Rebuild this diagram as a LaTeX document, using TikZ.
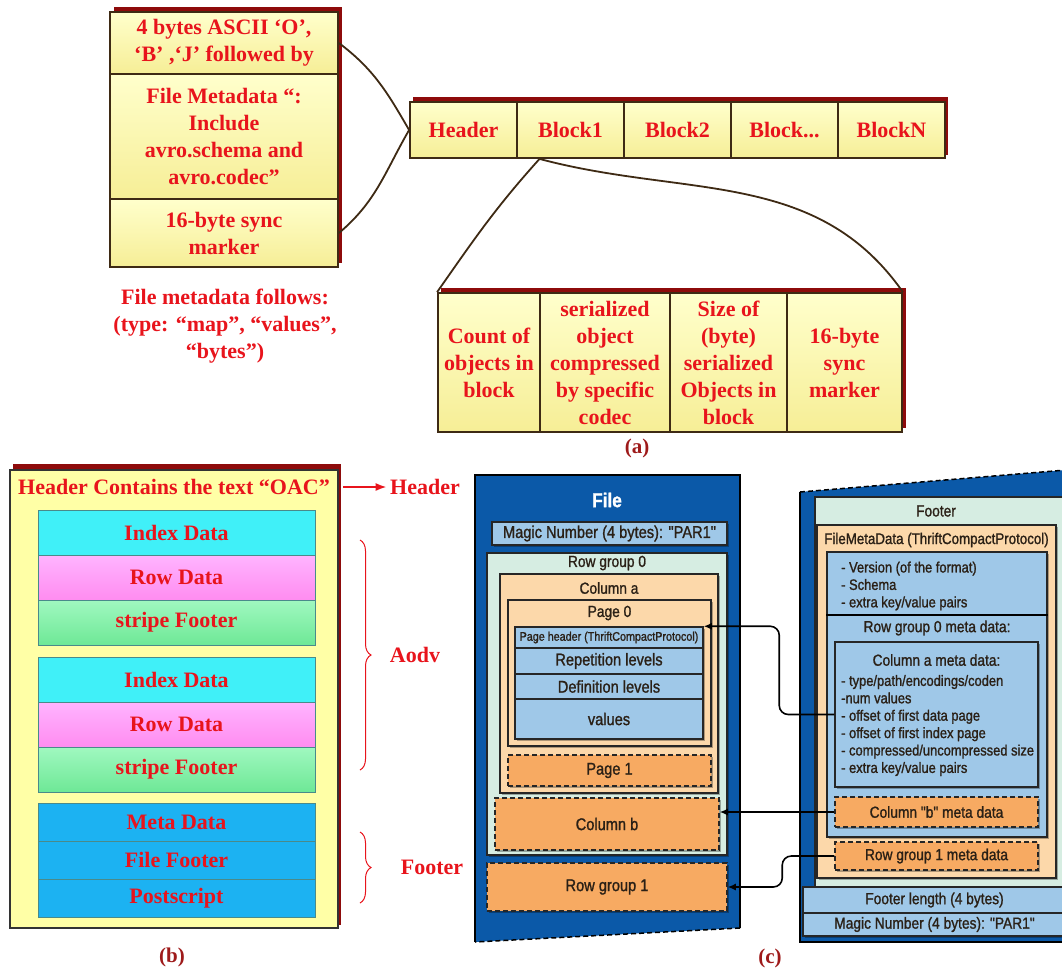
\documentclass[tikz,border=0pt]{standalone}
\usepackage{fontspec}
\setmainfont{Liberation Serif}
\newfontfamily\parqfont[FakeStretch=0.86, FakeBold=1.2]{Liberation Sans}
\usetikzlibrary{arrows.meta,decorations.pathreplacing,shadows}
\definecolor{avrored}{HTML}{E8141C}
\definecolor{capred}{HTML}{9E1A1A}
\definecolor{avrobrd}{HTML}{3E2A14}
\definecolor{barred}{HTML}{8E0B0B}
\definecolor{avrotop}{HTML}{FFFFCC}
\definecolor{avrobot}{HTML}{F6EE96}
\definecolor{orcyel}{HTML}{FFFFA6}
\definecolor{stripebrd}{HTML}{4A8A8A}
\definecolor{idxcyan}{HTML}{40F0F8}
\definecolor{rowtop}{HTML}{FFB4FF}
\definecolor{rowbot}{HTML}{FF8CF0}
\definecolor{sftop}{HTML}{A0F8C0}
\definecolor{sfbot}{HTML}{6EE896}
\definecolor{metablue}{HTML}{1CB2F2}
\definecolor{pqdark}{HTML}{0B59A8}
\definecolor{pqlight}{HTML}{9FC8E8}
\definecolor{pqmint}{HTML}{D6EDE2}
\definecolor{pqpeach}{HTML}{FCD8AA}
\definecolor{pqorange}{HTML}{F7AA62}
\definecolor{pqtext}{HTML}{2A2016}
\newcommand\avrofont{\bfseries\fontsize{22}{27}\selectfont}
\newcommand\pqsize[1]{\parqfont\fontsize{#1}{17.4}\selectfont}
\tikzset{
	avrocell/.style={draw=avrobrd, line width=1.8pt, top color=avrotop, bottom color=avrobot,
		text=avrored, font=\avrofont, align=center, inner sep=0pt},
	avrolink/.style={draw=avrobrd, line width=1.8pt},
	redtext/.style={text=avrored, font=\avrofont, align=center},
	caption/.style={text=capred, font=\bfseries\fontsize{21}{24}\selectfont},
	stripe/.style={draw=stripebrd, line width=0.6pt, minimum width=277pt, text=avrored,
		font=\avrofont, inner sep=0pt},
	idxfill/.style={stripe, fill=idxcyan, minimum height=45pt},
	rowfill/.style={stripe, top color=rowtop, bottom color=rowbot, minimum height=45pt},
	sffill/.style={stripe, top color=sftop, bottom color=sfbot, minimum height=45pt},
	metafill/.style={stripe, fill=metablue, minimum height=38pt},
	redbrace/.style={draw=avrored, line width=1pt, decorate, decoration={brace, amplitude=11pt}},
	pqbox/.style={draw=black!85, line width=1.5pt, inner sep=0pt, text=pqtext, font=\pqsize{16},
		drop shadow={shadow xshift=2pt, shadow yshift=-2pt, fill=black, opacity=0.3}},
	pqdash/.style={pqbox, fill=pqorange, dash pattern=on 5pt off 3pt},
	pqlabel/.style={text=pqtext, font=\pqsize{16}, inner sep=0pt},
	pqlink/.style={draw=black, line width=1.6pt, rounded corners=9pt, -{Latex[length=8pt,width=7pt]}}
}
\begin{document}
\begin{tikzpicture}[x=1pt,y=-1pt]
	\useasboundingbox (0,0) rectangle (1062,970);
	% (a) avro object container
	\fill[barred] (114,7) rectangle (342,263);
	\node[avrocell, minimum width=228pt, minimum height=62pt] (objmagic) at (224,43) {4 bytes ASCII ‘O’,\\‘B’ ,‘J’ followed by};
	\node[avrocell, minimum width=228pt, minimum height=125pt] (objmeta) at (224,136.5) {File Metadata “:\\Include\\avro.schema and\\avro.codec”};
	\node[avrocell, minimum width=228pt, minimum height=68pt] (objsync) at (224,233) {16-byte sync\\marker};
	\node[redtext] (metanote) at (225,326) {File metadata follows:\\(type: “map”, “values”,\\“bytes”)};
	\fill[barred] (413,97) rectangle (948,155);
	\node[avrocell, minimum width=107pt, minimum height=56pt] (hdr) at (463.5,130) {Header};
	\node[avrocell, minimum width=107pt, minimum height=56pt] (blk1) at (570.5,130) {Block1};
	\node[avrocell, minimum width=107pt, minimum height=56pt] (blk2) at (677.5,130) {Block2};
	\node[avrocell, minimum width=107pt, minimum height=56pt] (blkdots) at (784.5,130) {Block...};
	\node[avrocell, minimum width=107pt, minimum height=56pt] (blkn) at (891.5,130) {BlockN};
	\draw[avrolink] (objmagic.east) to[out=-37,in=120] (hdr.west);
	\draw[avrolink] (objsync.east) to[out=40,in=-120] (hdr.west);
	\fill[barred] (441,288) rectangle (906,428);
	\node[avrocell, minimum width=102pt, minimum height=139pt] (cnt) at (489,362.5) {Count of\\objects in\\block};
	\node[avrocell, minimum width=130pt, minimum height=139pt] (ser) at (605,362.5) {serialized\\object\\compressed\\by specific\\codec};
	\node[avrocell, minimum width=117pt, minimum height=139pt] (size) at (728.5,362.5) {Size of\\(byte)\\serialized\\Objects in\\block};
	\node[avrocell, minimum width=115pt, minimum height=139pt] (sync) at (844.5,362.5) {16-byte\\sync\\marker};
	\draw[avrolink] (blk1.-137) to[out=-132,in=55] (cnt.north west);
	\draw[avrolink] (blk1.-137) to[out=-15,in=125] (sync.north east);
	\node[caption] (capa) at (637,448) {(a)};
	% (b) orc file
	\fill[barred] (13,464) rectangle (341,925);
	\node[draw=black!80, line width=1.8pt, fill=orcyel, minimum width=328pt, minimum height=458pt] (orcfile) at (174,699) {};
	\node[redtext] (orchdr) at (174,487) {Header Contains the text “OAC”};
	\node[idxfill] (idx1) at (176.5,532.5) {Index Data};
	\node[rowfill] (row1) at (176.5,577.5) {Row Data};
	\node[sffill] (sft1) at (176.5,622.5) {stripe Footer};
	\node[idxfill] (idx2) at (176.5,679.5) {Index Data};
	\node[rowfill] (row2) at (176.5,724.5) {Row Data};
	\node[sffill] (sft2) at (176.5,769.5) {stripe Footer};
	\node[metafill] (meta) at (176.5,822) {Meta Data};
	\node[metafill] (ffoot) at (176.5,860) {File Footer};
	\node[metafill] (pscript) at (176.5,898) {Postscript};
	\node[redtext] (hdrlbl) at (425,487) {Header};
	\draw[draw=avrored, line width=1.8pt, -{Latex[length=11pt,width=8pt]}] (orcfile.east |- orchdr) ++(4,0) -- (hdrlbl.west);
	\draw[redbrace] (360,540) -- (360,770);
	\node[redtext] (aodv) at (415,655) {Aodv};
	\draw[redbrace] (360,832) -- (360,903);
	\node[redtext] (footlbl) at (432,867) {Footer};
	\node[caption] (capb) at (172,957) {(b)};
	% (c) parquet file
	\fill[pqdark] (475,475) -- (740,475) -- (740,928) -- (475,942) -- cycle;
	\draw[line width=1.5pt] (475,942) -- (475,475) -- (740,475) -- (740,928);
	\draw[line width=1.5pt, dash pattern=on 5pt off 3pt] (740,928) -- (475,942);
	\node[text=white, font=\parqfont\bfseries\fontsize{20}{22}\selectfont] (filettl) at (607,500) {File};
	\node[pqbox, fill=pqlight, minimum width=235pt, minimum height=23pt, font=\pqsize{17}] (magic1) at (609.5,533.5) {Magic Number (4 bytes): "PAR1"};
	\node[pqbox, fill=pqmint, minimum width=240pt, minimum height=302pt] (rg0) at (607,704) {};
	\node[pqlabel] (rg0ttl) at (607,563) {Row group 0};
	\node[pqbox, fill=pqpeach, minimum width=218pt, minimum height=219pt] (cola) at (609,683.5) {};
	\node[pqlabel] (colattl) at (609,588) {Column a};
	\node[pqbox, fill=pqpeach, minimum width=203pt, minimum height=146pt] (page0) at (609.5,673) {};
	\node[pqlabel] (page0ttl) at (609.5,613) {Page 0};
	\node[pqbox, fill=pqlight, minimum width=188pt, minimum height=21pt, font=\pqsize{12.5}] (phdr) at (609,637.5) {Page header (ThriftCompactProtocol)};
	\node[pqbox, fill=pqlight, minimum width=188pt, minimum height=26pt, font=\pqsize{17}] (rep) at (609,661) {Repetition levels};
	\node[pqbox, fill=pqlight, minimum width=188pt, minimum height=25pt, font=\pqsize{17}] (def) at (609,686.5) {Definition levels};
	\node[pqbox, fill=pqlight, minimum width=188pt, minimum height=40pt, font=\pqsize{17}] (vals) at (609,719) {values};
	\node[pqdash, minimum width=203pt, minimum height=31pt, font=\pqsize{17}] (page1) at (609.5,770.5) {Page 1};
	\node[pqdash, minimum width=224pt, minimum height=52pt, font=\pqsize{17}] (colb) at (607,824) {Column b};
	\node[pqdash, minimum width=240pt, minimum height=48pt, font=\pqsize{17}] (rg1) at (607,887) {Row group 1};
	% footer side
	\fill[pqdark] (800,492) -- (1066,470) -- (1066,942) -- (800,942) -- cycle;
	\draw[line width=1.5pt] (800,492) -- (800,942) -- (1066,942);
	\draw[line width=1.5pt, dash pattern=on 5pt off 3pt] (800,492) -- (1066,470);
	\node[pqbox, fill=pqmint, minimum width=251pt, minimum height=390pt] (foot) at (940.5,692) {};
	\node[pqlabel] (footttl) at (936,511) {Footer};
	\node[pqbox, fill=pqpeach, minimum width=239pt, minimum height=353pt] (fmd) at (936.5,701.5) {};
	\node[pqlabel, font=\pqsize{15.5}] (fmdttl) at (936.5,540) {FileMetaData (ThriftCompactProtocol)};
	\node[pqbox, fill=pqlight, minimum width=220pt, minimum height=285pt] (fmdin) at (937,694.5) {};
	\node[pqlabel, anchor=west, align=left, font=\pqsize{15}] (fmdlist) at (841,586) {- Version (of the format)\\- Schema\\- extra key/value pairs};
	\draw[line width=1.5pt] (fmdin.west |- 0,615) -- (fmdin.east |- 0,615);
	\node[pqlabel] (rg0meta) at (937,628) {Row group 0 meta data:};
	\node[pqbox, fill=pqlight, minimum width=203pt, minimum height=145pt] (cameta) at (936.5,714.5) {};
	\node[pqlabel] (camttl) at (936.5,660) {Column a meta data:};
	\node[pqlabel, anchor=west, align=left, font=\pqsize{15}] (camlist) at (841,725.5) {- type/path/encodings/coden\\-num values\\- offset of first data page\\- offset of first index page\\- compressed/uncompressed size\\- extra key/value pairs};
	\node[pqdash, minimum width=203pt, minimum height=30pt] (cbmeta) at (936.5,812) {Column "b" meta data};
	\node[pqdash, minimum width=203pt, minimum height=28pt] (rg1meta) at (936.5,856) {Row group 1 meta data};
	\node[pqbox, fill=pqlight, minimum width=263pt, minimum height=26pt, drop shadow={opacity=0}] (flen) at (934.5,900) {Footer length (4 bytes)};
	\node[pqbox, fill=pqlight, minimum width=263pt, minimum height=23pt, drop shadow={opacity=0}] (magic2) at (934.5,924.5) {Magic Number (4 bytes): "PAR1"};
	\draw[pqlink] (cameta.west) -- ++(-55,0) |- (phdr.north east);
	\draw[pqlink] (cbmeta.west) -- (cbmeta.west -| colb.east);
	\draw[pqlink] (rg1meta.west) -- ++(-52,0) |- (rg1.east);
	\node[caption] (capc) at (770,958) {(c)};
\end{tikzpicture}
\end{document}
